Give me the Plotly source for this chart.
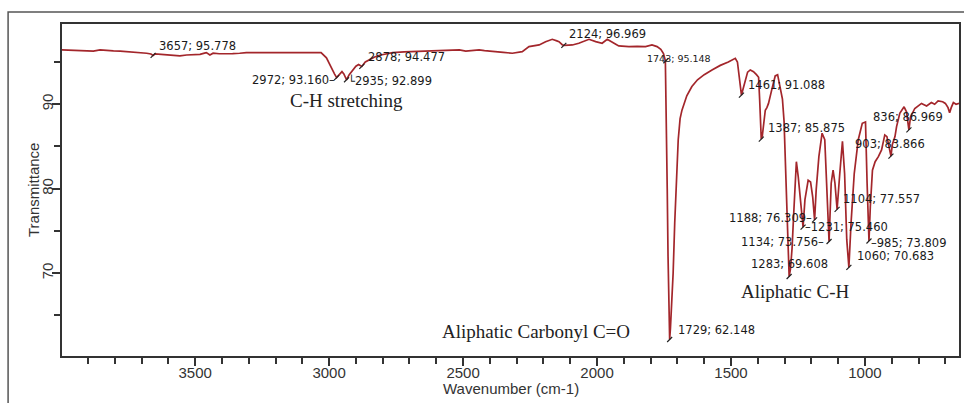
import plotly.graph_objects as go

# ---------------- data ----------------
wavenumber = [
    3997, 3960, 3917, 3880, 3855, 3830, 3805, 3780, 3755, 3730, 3706, 3681, 3665, 3657, 3650,
    3630, 3606, 3580, 3557, 3532, 3510, 3482, 3465, 3458, 3445, 3433, 3410, 3383, 3360, 3334,
    3309, 3250, 3197, 3100, 3030, 3010, 3000, 2990, 2980, 2972, 2962, 2952, 2945, 2935, 2925,
    2912, 2900, 2890, 2878, 2865, 2850, 2830, 2812, 2790, 2763, 2720, 2688, 2650, 2614, 2560,
    2514, 2490, 2470, 2440, 2420, 2390, 2350, 2316, 2290, 2279, 2254, 2235, 2216, 2192, 2167,
    2150, 2142, 2130, 2124, 2105, 2092, 2068, 2045, 2030, 2005, 1981, 1962, 1944, 1930, 1919,
    1881, 1850, 1819, 1795, 1776, 1762, 1752, 1745, 1741, 1738, 1735, 1732, 1729, 1726, 1722,
    1716, 1710, 1704, 1697, 1690, 1683, 1665, 1646, 1625, 1600, 1571, 1540, 1510, 1497, 1484,
    1476, 1470, 1465, 1461, 1455, 1447, 1438, 1428, 1416, 1405, 1397, 1393, 1390, 1387, 1383,
    1379, 1372, 1366, 1360, 1348, 1335, 1326, 1316, 1308, 1302, 1298, 1293, 1288, 1283, 1278,
    1272, 1266, 1261, 1256, 1249, 1240, 1231, 1224, 1212, 1203, 1195, 1188, 1182, 1172, 1160,
    1150, 1142, 1134, 1126, 1119, 1112, 1104, 1094, 1084, 1076, 1068, 1060, 1052, 1040, 1025,
    1010, 998, 992, 985, 980, 972, 962, 950, 938, 926, 918, 910, 903, 898, 888,
    882, 870, 854, 845, 836, 830, 814, 800, 789, 770, 752, 740, 727, 710, 700,
    690, 684, 678, 670, 660, 649,
]
transmittance = [
    96.43, 96.40, 96.35, 96.30, 96.43, 96.35, 96.31, 96.28, 96.23, 96.20, 96.15, 96.04, 95.95, 95.78, 95.95,
    95.90, 95.83, 95.78, 95.72, 95.83, 95.88, 95.91, 96.05, 96.11, 95.83, 96.04, 95.98, 95.95, 96.00, 96.04,
    96.11, 96.11, 96.11, 96.11, 96.12, 95.50, 94.80, 94.20, 93.60, 93.16, 93.50, 93.86, 93.60, 92.899, 93.50,
    94.10, 94.50, 94.70, 94.477, 95.00, 95.30, 95.60, 95.80, 95.95, 96.11, 96.20, 96.23, 96.30, 96.31, 96.35,
    96.43, 96.30, 96.35, 96.43, 96.35, 96.23, 96.15, 96.04, 96.15, 96.23, 96.82, 96.95, 97.02, 97.41, 97.69,
    97.50, 97.41, 97.05, 96.969, 97.00, 97.02, 97.22, 97.45, 97.69, 97.41, 97.22, 97.69, 97.41, 97.10, 96.90,
    96.82, 96.85, 96.82, 97.02, 96.82, 96.50, 96.00, 95.148, 88.0, 80.0, 72.0, 66.0, 62.148, 63.5, 66.0,
    70.0, 76.0, 80.0, 85.8, 88.3, 89.3, 91.0, 92.1, 92.9, 93.5, 94.06, 94.6, 95.0, 95.24, 95.44,
    95.0, 93.5, 92.0, 91.088, 91.8, 92.9, 93.8, 94.06, 93.86, 93.5, 93.2, 90.5, 87.5, 85.875, 86.3,
    87.2, 89.3, 89.6, 90.1, 91.7, 93.35, 93.5, 92.1, 90.6, 88.0, 84.6, 80.0, 75.0, 69.608, 70.5,
    73.0, 77.0, 80.6, 83.2, 81.4, 78.0, 75.46, 78.7, 81.0, 80.8, 79.0, 76.309, 79.9, 83.8, 86.57,
    85.8, 80.0, 73.756, 80.65, 82.2, 80.65, 77.557, 81.8, 85.6, 81.8, 74.0, 70.683, 75.9, 81.8, 85.8,
    87.75, 87.9, 80.65, 73.809, 77.9, 82.2, 83.2, 83.8, 84.6, 86.37, 86.17, 84.8, 83.866, 85.2, 86.17,
    87.35, 88.93, 89.7, 89.1, 86.969, 88.5, 89.5, 89.8, 90.1, 89.8, 90.2, 90.0, 90.4, 90.3, 90.1,
    89.6, 89.0, 89.6, 90.2, 90.0, 90.1,
]

peak_wn = [3657, 2972, 2935, 2878, 2124, 1743, 1729, 1461, 1387, 1283,
           1231, 1188, 1134, 1104, 1060, 985, 903, 836]
peak_T = [95.778, 93.160, 92.899, 94.477, 96.969, 95.148, 62.148, 91.088, 85.875, 69.608,
          75.460, 76.309, 73.756, 77.557, 70.683, 73.809, 83.866, 86.969]

band_labels = ["C-H stretching", "Aliphatic Carbonyl C=O", "Aliphatic C-H"]

x_title = "Wavenumber (cm-1)"
y_title = "Transmittance"

# ---------------- figure ----------------
fig = go.Figure()
fig.add_trace(go.Scatter(
    x=wavenumber, y=transmittance, mode="lines",
    line=dict(color="#a3262b", width=1.7), hoverinfo="skip", showlegend=False,
))
fig.add_trace(go.Scatter(
    x=peak_wn, y=peak_T, mode="markers",
    marker=dict(symbol="line-ne", size=5, line=dict(color="#222", width=1.2)),
    hoverinfo="skip", showlegend=False,
))

# label placement styles: (xanchor, xshift, yshift, prefix, suffix, size)
label_style = {
    3657: ("left", 4, 9, "", "", 11.5),
    2972: ("right", 0, -2, "", "\u2013", 11.5),
    2935: ("left", -1, -1, "\u2514", "", 11.5),
    2878: ("left", 4, 9, "", "", 11.5),
    2124: ("left", 3, 11, "", "", 11.5),
    1743: ("left", -21, 2, "", "", 9.5),
    1729: ("left", 6, 10, "", "", 11.5),
    1461: ("left", 5, 10, "", "", 11.5),
    1387: ("left", 5, 11, "", "", 11.5),
    1283: ("center", 0, 13, "", "", 11.5),
    1231: ("left", 0, 0, "\u2013", "", 11.5),
    1188: ("right", -1, 2, "", "\u2013", 11.5),
    1134: ("right", -3, -1, "", "\u2013", 11.5),
    1104: ("left", 4, 10, "", "", 11.5),
    1060: ("left", 6, 11, "", "", 11.5),
    985: ("left", 0, -2, "\u2013", "", 11.5),
    903: ("left", -38, 12, "", "", 11.5),
    836: ("left", -38, 13, "", "", 11.5),
}

annotations = []
for w, t in zip(peak_wn, peak_T):
    xa, xs, ys, pre, suf, sz = label_style[w]
    annotations.append(dict(
        x=w, y=t, xref="x", yref="y", text=f"{pre}{w}; {t:.3f}{suf}",
        showarrow=False, xanchor=xa, yanchor="middle", xshift=xs, yshift=ys,
        font=dict(family="DejaVu Sans", size=sz, color="#1a1a1a"),
    ))

band_pos = [(2936, 90.5), (2228, 63.05), (1260, 67.8)]
for txt, (bx, by) in zip(band_labels, band_pos):
    annotations.append(dict(
        x=bx, y=by, xref="x", yref="y", text=txt, showarrow=False,
        xanchor="center", yanchor="middle",
        font=dict(family="Liberation Serif, Times New Roman, serif", size=19, color="#222"),
    ))

axis_font = dict(family="Liberation Sans, Arial, sans-serif", size=15, color="#333")

# axis titles placed as annotations for exact positioning
annotations.append(dict(
    x=0.5, y=-0.0964, xref="paper", yref="paper", text=x_title, showarrow=False,
    xanchor="center", yanchor="middle", font=axis_font,
))
annotations.append(dict(
    x=-0.0323, y=0.5, xref="paper", yref="paper", text=y_title, showarrow=False,
    xanchor="center", yanchor="middle", textangle=-90, font=axis_font,
))

fig.update_layout(
    width=964, height=403,
    margin=dict(l=62, r=3, t=24, b=47),
    paper_bgcolor="white", plot_bgcolor="white",
    annotations=annotations,
    shapes=[dict(type="rect", xref="paper", yref="paper",
                 x0=-0.0601, x1=1.03, y0=-0.25, y1=1.0361,
                 line=dict(color="#555", width=1.5), layer="below")],
)

fig.update_xaxes(
    range=[3997, 649], dtick=500, tick0=0, showgrid=False, zeroline=False,
    showline=True, linewidth=2, linecolor="#333", mirror=True,
    ticks="outside", ticklen=8, tickwidth=2, tickcolor="#333",
    minor=dict(dtick=100, tick0=0, ticks="outside", ticklen=6, tickwidth=2, tickcolor="#333"),
    tickfont=axis_font, ticklabelstandoff=-6,
)
fig.update_yaxes(
    range=[60.2, 99.5], dtick=10, tick0=0, showgrid=False, zeroline=False,
    showline=True, linewidth=2, linecolor="#333", mirror=True,
    ticks="outside", ticklen=8, tickwidth=2, tickcolor="#333",
    minor=dict(dtick=5, tick0=0, ticks="outside", ticklen=6, tickwidth=2, tickcolor="#333"),
    tickfont=axis_font, tickangle=-90, ticklabelstandoff=-7,
)

fig.write_html("out.html")
